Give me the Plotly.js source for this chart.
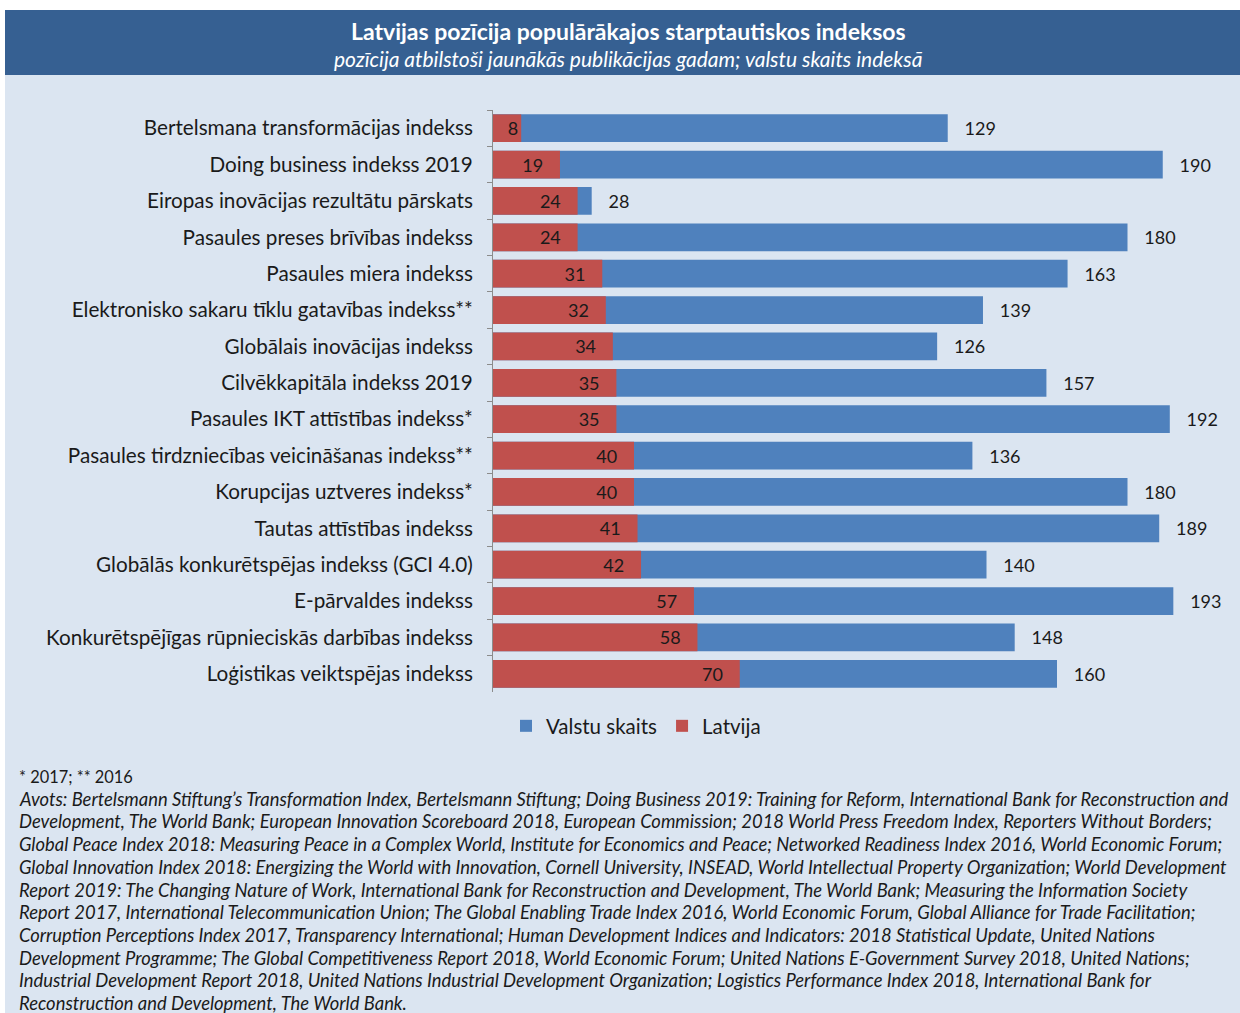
<!DOCTYPE html>
<html>
<head>
<meta charset="utf-8">
<script src="https://cdn.plot.ly/plotly-3.0.1.min.js"></script>
<style>html,body{margin:0;padding:0;background:#fff;}</style>
</head>
<body>
<div id="chart" style="width:1240px;height:1013px;"></div>
<script>
const categories = [
  "Bertelsmana transformācijas indekss",
  "Doing business indekss 2019",
  "Eiropas inovācijas rezultātu pārskats",
  "Pasaules preses brīvības indekss",
  "Pasaules miera indekss",
  "Elektronisko sakaru tīklu gatavības indekss**",
  "Globālais inovācijas indekss",
  "Cilvēkkapitāla indekss 2019",
  "Pasaules IKT attīstības indekss*",
  "Pasaules tirdzniecības veicināšanas indekss**",
  "Korupcijas uztveres indekss*",
  "Tautas attīstības indekss",
  "Globālās konkurētspējas indekss (GCI 4.0)",
  "E-pārvaldes indekss",
  "Konkurētspējīgas rūpnieciskās darbības indekss",
  "Loģistikas veiktspējas indekss"
];
const countries = [129, 190, 28, 180, 163, 139, 126, 157, 192, 136, 180, 189, 140, 193, 148, 160];
const latvia = [8, 19, 24, 24, 31, 32, 34, 35, 35, 40, 40, 41, 42, 57, 58, 70];
const seriesNames = ["Valstu skaits", "Latvija"];
const titleText = "Latvijas pozīcija populārākajos starptautiskos indeksos";
const subtitleText = "pozīcija atbilstoši jaunākās publikācijas gadam; valstu skaits indeksā";
const footLines = [
  "* 2017; ** 2016",
  "<i>Avots: Bertelsmann Stiftung’s Transformation Index, Bertelsmann Stiftung; Doing Business 2019: Training for Reform, International Bank for Reconstruction and</i>",
  "<i>Development, The World Bank; European Innovation Scoreboard 2018, European Commission; 2018 World Press Freedom Index, Reporters Without Borders;</i>",
  "<i>Global Peace Index 2018: Measuring Peace in a Complex World, Institute for Economics and Peace; Networked Readiness Index 2016, World Economic Forum;</i>",
  "<i>Global Innovation Index 2018: Energizing the World with Innovation, Cornell University, INSEAD, World Intellectual Property Organization; World Development</i>",
  "<i>Report 2019: The Changing Nature of Work, International Bank for Reconstruction and Development, The World Bank; Measuring the Information Society</i>",
  "<i>Report 2017, International Telecommunication Union; The Global Enabling Trade Index 2016, World Economic Forum, Global Alliance for Trade Facilitation;</i>",
  "<i>Corruption Perceptions Index 2017, Transparency International; Human Development Indices and Indicators: 2018 Statistical Update, United Nations</i>",
  "<i>Development Programme; The Global Competitiveness Report 2018, World Economic Forum; United Nations E-Government Survey 2018, United Nations;</i>",
  "<i>Industrial Development Report 2018, United Nations Industrial Development Organization; Logistics Performance Index 2018, International Bank for</i>",
  "<i>Reconstruction and Development, The World Bank.</i>"
];

const FONT = "Lato, 'Open Sans', sans-serif";
const NB = "\u00a0";
const W = 1240, H = 1013;
const L = 493, R = 1225, T = 110, B = 692;
const px = x => (x - L) / (R - L);
const py = y => (B - y) / (B - T);

const traces = [
  {
    type: "bar", orientation: "h", name: seriesNames[0],
    y: categories, x: countries,
    marker: {color: "#4F81BD"},
    text: countries.map(v => NB.repeat(3) + v),
    textposition: "outside", cliponaxis: false, textangle: 0,
    outsidetextfont: {family: FONT, size: 18, color: "#1a1a1a"},
    width: 0.76, hoverinfo: "x+y"
  },
  {
    type: "bar", orientation: "h", name: seriesNames[1],
    y: categories, x: latvia,
    marker: {color: "#C0504D"},
    text: latvia.map(v => v < 10 ? String(v) : v + NB.repeat(3)),
    textposition: "inside", insidetextanchor: "end", constraintext: "none", textangle: 0,
    insidetextfont: {family: FONT, size: 18, color: "#1a1a1a"},
    width: 0.76, hoverinfo: "x+y"
  }
];

const annotations = [
  {text: "<b>" + titleText + "</b>", x: px(628), y: py(31), xref: "paper", yref: "paper",
   xanchor: "center", yanchor: "middle", showarrow: false, font: {family: FONT, size: 23, color: "#ffffff"}},
  {text: "<i>" + subtitleText + "</i>", x: px(628), y: py(58), xref: "paper", yref: "paper",
   xanchor: "center", yanchor: "middle", showarrow: false, font: {family: FONT, size: 21, color: "#ffffff"}}
];
footLines.forEach((t, i) => {
  annotations.push({text: t, x: px(17), y: py(776 + i * 22.7), xref: "paper", yref: "paper",
    xanchor: "left", yanchor: "middle", showarrow: false, align: "left",
    font: {family: FONT, size: i === 0 ? 16.4 : 18.4, color: "#1a1a1a"}});
});

const layout = {
  width: W, height: H,
  margin: {l: L, r: W - R, t: T, b: H - B, pad: 0},
  paper_bgcolor: "#ffffff", plot_bgcolor: "rgba(0,0,0,0)",
  barmode: "overlay",
  showlegend: true,
  legend: {orientation: "h", x: px(636), y: py(726), xanchor: "center", yanchor: "middle",
    font: {family: FONT, size: 20.5, color: "#1a1a1a"}, bgcolor: "rgba(0,0,0,0)", traceorder: "normal",
    itemwidth: 30},
  xaxis: {range: [0, (R - L) / 3.525], visible: false, showgrid: false, zeroline: false, fixedrange: true},
  yaxis: {autorange: "reversed", type: "category", showline: true, linecolor: "#8c8c8c", linewidth: 1,
    ticks: "outside", tickson: "boundaries", ticklen: 5, tickcolor: "#8c8c8c",
    ticklabelstandoff: 15, showgrid: false, zeroline: false,
    tickfont: {family: FONT, size: 20.7, color: "#1a1a1a"}},
  shapes: [
    {type: "rect", xref: "paper", yref: "paper", x0: px(5), x1: px(1240), y0: py(1013), y1: py(75),
     fillcolor: "#DBE5F1", line: {width: 0}, layer: "below"},
    {type: "rect", xref: "paper", yref: "paper", x0: px(5), x1: px(1240), y0: py(75), y1: py(10),
     fillcolor: "#366092", line: {width: 0}, layer: "below"}
  ],
  annotations: annotations
};

Plotly.newPlot("chart", traces, layout, {displayModeBar: false, staticPlot: true});
</script>
</body>
</html>
